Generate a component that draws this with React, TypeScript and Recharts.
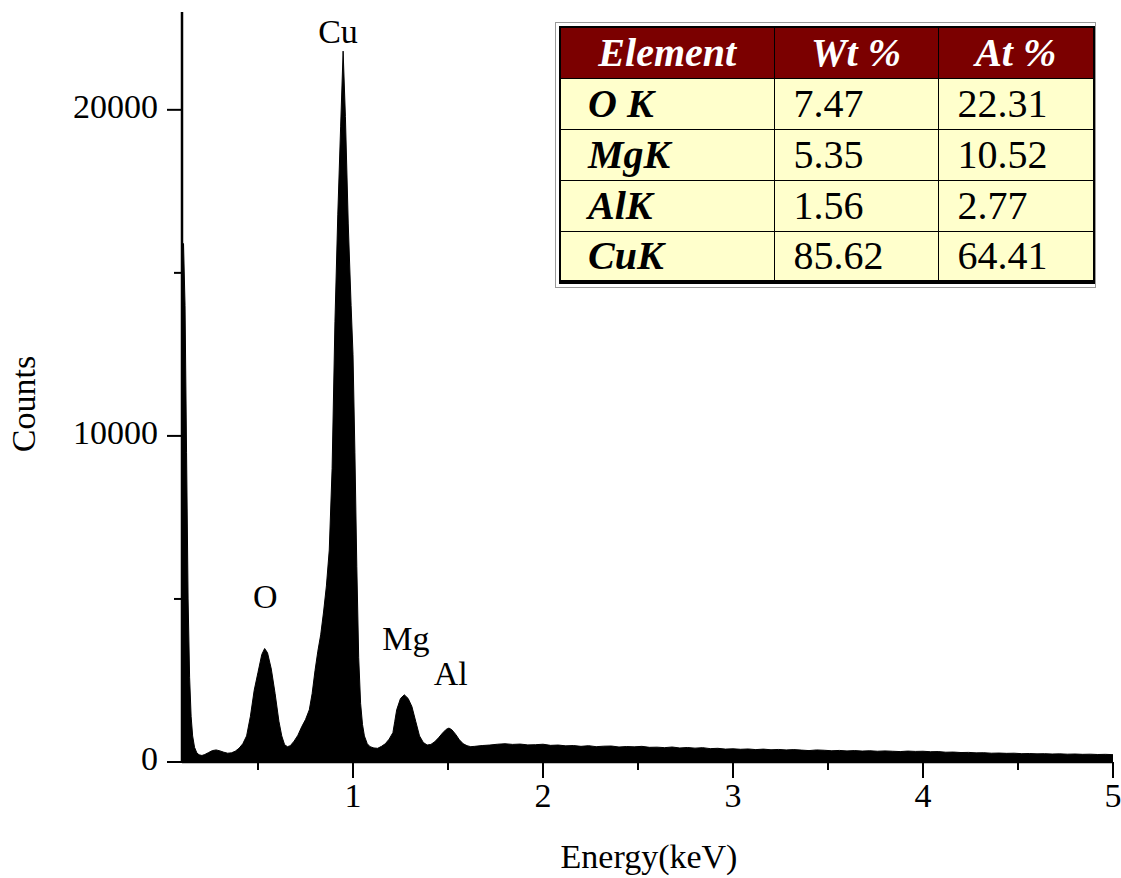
import React from 'react';
import { ComposedChart, Area, Scatter, XAxis, YAxis } from 'recharts';

const FONT = "'Liberation Serif', Tinos, 'Times New Roman', Times, 'DejaVu Serif', serif";

// EDS spectrum, [energy keV, counts]
const lowEnergyTail: [number, number][] = [
  [0.1, 15500], [0.108, 15900], [0.116, 14000], [0.124, 9500], [0.132, 5000],
  [0.14, 2600], [0.148, 1400], [0.156, 800], [0.166, 450], [0.178, 280],
  [0.19, 220], [0.205, 200], [0.22, 230], [0.24, 290], [0.26, 350],
  [0.28, 370], [0.3, 340], [0.32, 300], [0.34, 270], [0.36, 280],
  [0.38, 330], [0.4, 420], [0.42, 560],
];

const oxygenPeak: [number, number][] = [
  [0.44, 800], [0.46, 1400], [0.48, 2200], [0.5, 2750], [0.52, 3300],
  [0.535, 3480], [0.55, 3350], [0.57, 2850], [0.59, 2100], [0.61, 1250],
  [0.625, 800], [0.64, 530], [0.655, 470], [0.67, 500], [0.69, 640],
];

const copperPeak: [number, number][] = [
  [0.71, 820], [0.73, 1080], [0.75, 1300], [0.77, 1600], [0.785, 2100],
  [0.8, 2800], [0.815, 3400], [0.83, 3900], [0.845, 4600], [0.86, 5400], [0.875, 6500],
  [0.89, 9000], [0.905, 13500], [0.92, 16800], [0.935, 19500], [0.948, 21800],
  [0.96, 19800], [0.975, 16500], [0.99, 14000], [1.0, 12500], [1.01, 9500],
  [1.02, 6000], [1.03, 3200], [1.04, 1800], [1.05, 1150], [1.06, 800],
  [1.075, 560], [1.09, 470], [1.11, 430], [1.13, 420],
];

const mgAlPeaks: [number, number][] = [
  [1.15, 480], [1.17, 560], [1.19, 700], [1.21, 900], [1.22, 1250],
  [1.23, 1600], [1.25, 1950], [1.27, 2060], [1.29, 1950], [1.31, 1700],
  [1.33, 1250], [1.35, 800], [1.37, 600], [1.39, 520], [1.41, 540],
  [1.43, 620], [1.45, 740], [1.47, 880], [1.49, 1000], [1.505, 1040],
  [1.52, 990], [1.54, 850], [1.56, 680], [1.58, 560], [1.6, 500],
  [1.62, 470],
];

const background: [number, number][] = [
  [1.64, 480], [1.68, 505], [1.72, 520], [1.76, 545], [1.8, 560],
  [1.84, 540], [1.88, 550], [1.92, 525], [1.96, 530], [2.0, 545],
  [2.04, 510], [2.08, 520], [2.12, 495], [2.16, 505], [2.2, 480],
  [2.24, 500], [2.28, 470], [2.32, 485], [2.36, 490], [2.4, 460],
  [2.44, 475], [2.48, 465], [2.52, 480], [2.56, 450], [2.6, 455],
  [2.64, 440], [2.68, 460], [2.72, 430], [2.76, 445], [2.8, 425],
  [2.84, 440], [2.88, 410], [2.92, 420], [2.96, 395], [3.0, 405],
  [3.04, 390], [3.08, 400], [3.12, 380], [3.16, 395], [3.2, 375],
  [3.24, 385], [3.28, 370], [3.32, 380], [3.36, 365], [3.4, 350],
  [3.44, 370], [3.48, 360], [3.52, 345], [3.56, 355], [3.6, 340],
  [3.64, 350], [3.68, 335], [3.72, 345], [3.76, 330], [3.8, 340],
  [3.84, 330], [3.88, 320], [3.92, 335], [3.96, 325], [4.0, 330],
  [4.04, 315], [4.08, 320], [4.12, 300], [4.16, 305], [4.2, 290],
  [4.24, 295], [4.28, 280], [4.32, 285], [4.36, 270], [4.4, 275],
  [4.44, 265], [4.48, 270], [4.52, 255], [4.56, 260], [4.6, 250],
  [4.64, 255], [4.68, 245], [4.72, 250], [4.76, 240], [4.8, 245],
  [4.84, 235], [4.88, 240], [4.92, 230], [4.96, 235], [5.0, 225],
];

// peak annotations (text baseline position in data units)
const peakLabels = [
  { name: 'Cu', energy: 0.921, counts: 22050 },
  { name: 'O', energy: 0.538, counts: 4720 },
  { name: 'Mg', energy: 1.278, counts: 3440 },
  { name: 'Al', energy: 1.514, counts: 2360 },
];

const xTicks = [0.5, 1, 1.5, 2, 2.5, 3, 3.5, 4, 4.5, 5];
const yTicks = [0, 5000, 10000, 15000, 20000];

const elements = ['O K', 'MgK', 'AlK', 'CuK'];
const wtPercent = ['7.47', '5.35', '1.56', '85.62'];
const atPercent = ['22.31', '10.52', '2.77', '64.41'];

const spectrum = [...lowEnergyTail, ...oxygenPeak, ...copperPeak, ...mgAlPeaks, ...background]
  .map(([energy, counts]) => ({ energy, counts }));

const XTick = ({ x, y, payload }: any) => {
  const major = Number.isInteger(payload.value);
  return (
    <g>
      <line x1={x} x2={x} y1={y} y2={y + (major ? 16 : 8)} stroke="#000" strokeWidth={2} />
      {major && (
        <text x={x} y={y + 45} textAnchor="middle" fontSize={34} style={{ fontFamily: FONT }} fill="#000">
          {payload.value}
        </text>
      )}
    </g>
  );
};

const YTick = ({ x, y, payload }: any) => {
  const major = payload.value % 10000 === 0;
  return (
    <g>
      <line x1={x - (major ? 15 : 8)} x2={x} y1={y} y2={y} stroke="#000" strokeWidth={2} />
      {major && (
        <text x={x - 24} y={y + 8} textAnchor="end" fontSize={34} style={{ fontFamily: FONT }} fill="#000">
          {payload.value}
        </text>
      )}
    </g>
  );
};

const PeakLabel = ({ cx, cy, payload }: any) => (
  <text x={cx} y={cy} textAnchor="middle" fontSize={34} style={{ fontFamily: FONT }} fill="#000">
    {payload.name}
  </text>
);

const cell: React.CSSProperties = {
  border: '1.5px solid #000',
  padding: '0 0 0 19px',
  fontSize: 40,
  fontFamily: FONT,
  lineHeight: '46px',
  whiteSpace: 'nowrap',
  overflow: 'hidden',
  color: '#000',
  background: '#FFFFCC',
};

const headCell: React.CSSProperties = {
  ...cell,
  padding: 0,
  textAlign: 'center',
  background: '#7B0000',
  color: '#fff',
  fontWeight: 'bold',
  fontStyle: 'italic',
};

const CompositionTable = () => (
  <div style={{ position: 'absolute', left: 555, top: 22, width: 541, height: 266, border: '1px solid #999', boxSizing: 'border-box' }}>
    <table
      style={{
        position: 'absolute', left: 3, top: 3, width: 534, borderCollapse: 'collapse', tableLayout: 'fixed',
        border: '2px solid #000', borderBottom: '4px solid #000',
      }}
    >
      <colgroup>
        <col style={{ width: 214 }} />
        <col style={{ width: 164 }} />
        <col style={{ width: 156 }} />
      </colgroup>
      <tbody>
        <tr style={{ height: 51 }}>
          <td style={headCell}>Element</td>
          <td style={headCell}>Wt %</td>
          <td style={headCell}>At %</td>
        </tr>
        {elements.map((el, i) => (
          <tr key={el} style={{ height: 51 }}>
            <td style={{ ...cell, paddingLeft: 27, fontWeight: 'bold', fontStyle: 'italic' }}>{el}</td>
            <td style={cell}>{wtPercent[i]}</td>
            <td style={cell}>{atPercent[i]}</td>
          </tr>
        ))}
      </tbody>
    </table>
  </div>
);

export default function App() {
  return (
    <div style={{ position: 'relative', width: 1121, height: 878, background: '#fff', fontFamily: FONT }}>
      <style>{'body{margin:0}'}</style>
      <ComposedChart width={1121} height={878} data={spectrum} margin={{ top: 12, right: 8, bottom: 0, left: 0 }}>
        <XAxis
          xAxisId="bottom"
          dataKey="energy"
          type="number"
          domain={[0.1, 5]}
          ticks={xTicks}
          allowDataOverflow
          height={116}
          tickSize={0}
          tickMargin={0}
          tickLine={false}
          tick={<XTick />}
          axisLine={{ stroke: '#000', strokeWidth: 2.5 }}
          label={() => (
            <text x={649} y={868} textAnchor="middle" fontSize={34} style={{ fontFamily: FONT }} fill="#000">
              Energy(keV)
            </text>
          )}
        />
        <XAxis
          xAxisId="top"
          orientation="top"
          type="number"
          domain={[0.1, 5]}
          height={0}
          tick={false}
          tickLine={false}
          axisLine={{ stroke: '#000', strokeWidth: 2.5 }}
        />
        <YAxis
          yAxisId="left"
          type="number"
          domain={[0, 23000]}
          ticks={yTicks}
          allowDataOverflow
          width={182}
          tickSize={0}
          tickMargin={0}
          tickLine={false}
          tick={<YTick />}
          axisLine={{ stroke: '#000', strokeWidth: 2.5 }}
          label={() => (
            <text x={35} y={404} transform="rotate(-90 35 404)" textAnchor="middle" fontSize={34} style={{ fontFamily: FONT }} fill="#000">
              Counts
            </text>
          )}
        />
        <YAxis
          yAxisId="right"
          orientation="right"
          type="number"
          domain={[0, 23000]}
          width={0}
          tick={false}
          tickLine={false}
          axisLine={{ stroke: '#000', strokeWidth: 2.5 }}
        />
        <Area
          xAxisId="bottom"
          yAxisId="left"
          type="linear"
          dataKey="counts"
          stroke="#000"
          strokeWidth={1}
          fill="#000"
          fillOpacity={1}
          dot={false}
          activeDot={false}
          isAnimationActive={false}
        />
        <Scatter
          xAxisId="bottom"
          yAxisId="left"
          data={peakLabels}
          dataKey="counts"
          shape={<PeakLabel />}
          isAnimationActive={false}
        />
      </ComposedChart>
      <CompositionTable />
    </div>
  );
}
